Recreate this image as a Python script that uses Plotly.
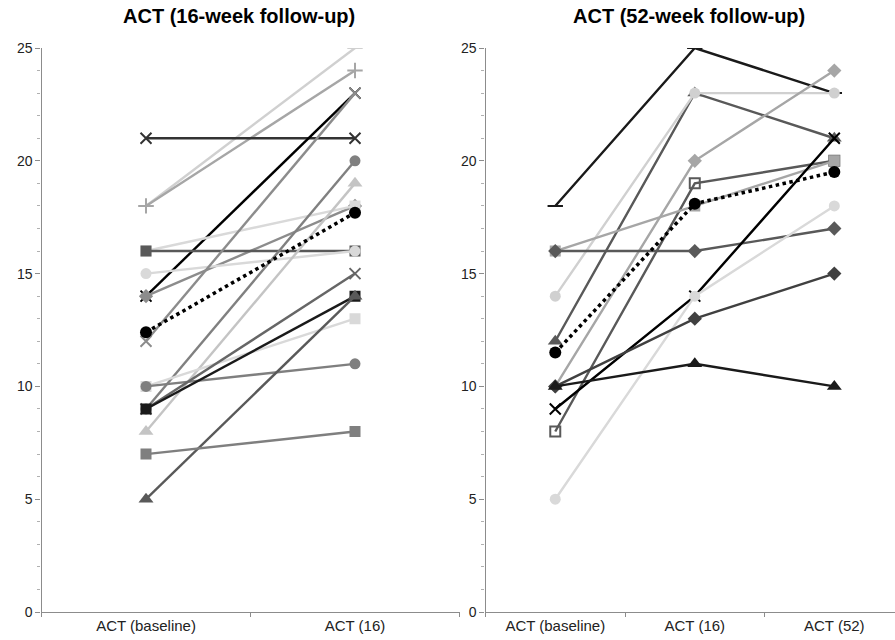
import plotly.graph_objects as go

# ---------------- data ----------------
left_categories = ["ACT (baseline)", "ACT (16)"]
right_categories = ["ACT (baseline)", "ACT (16)", "ACT (52)"]

# left panel: one entry per patient
left_baseline = [18, 18, 21, 14, 14, 16, 16, 15, 12, 9, 8, 10, 10, 9, 9, 5, 7]
left_week16 = [25, 24, 21, 23, 18, 18, 16, 16, 23, 20, 19, 13, 11, 15, 14, 14, 8]
left_mean = [12.4, 17.7]

# right panel: one entry per patient
right_baseline = [18, 12, 14, 10, 8, 16, 16, 9, 5, 10, 10]
right_week16 = [25, 23, 23, 20, 19, 18, 16, 14, 14, 13, 11]
right_week52 = [23, 21, 23, 24, 20, 20, 17, 21, 18, 15, 10]
right_mean = [11.5, 18.1, 19.5]

y_ticks = [0, 5, 10, 15, 20, 25]

# ---------------- styles ----------------
left_colors = ["#d0d0d0", "#a6a6a6", "#333333", "#000000", "#8c8c8c", "#d9d9d9",
               "#595959", "#d9d9d9", "#8c8c8c", "#808080", "#c4c4c4", "#d9d9d9",
               "#7f7f7f", "#666666", "#1a1a1a", "#595959", "#7f7f7f"]
left_symbols = ["line-ew", "cross-thin", "x-thin", "x-thin", "diamond", "square",
                "square", "circle", "x-thin", "circle", "triangle-up", "square",
                "circle", "x-thin", "square", "triangle-up", "square"]

right_colors = ["#1a1a1a", "#595959", "#d0d0d0", "#a6a6a6", "#595959", "#a6a6a6",
                "#595959", "#000000", "#d9d9d9", "#404040", "#1a1a1a"]
right_symbols = ["line-ew", "triangle-up", "circle", "diamond", "square-open", "square",
                 "diamond", "x-thin", "circle", "diamond", "triangle-up"]

fig = go.Figure()


def marker_for(sym, col):
    line_syms = ("line-ew", "cross-thin", "x-thin")
    if sym in line_syms:
        return dict(symbol=sym, size=11, color=col, line=dict(color=col, width=2))
    if sym.endswith("-open"):
        return dict(symbol=sym, size=10, color=col, line=dict(color=col, width=2))
    if sym.startswith("triangle"):
        return dict(symbol=sym, size=13, color=col, line=dict(width=0))
    return dict(symbol=sym, size=11, color=col, line=dict(width=0))


for i in range(len(left_baseline)):
    fig.add_trace(go.Scatter(
        x=left_categories, y=[left_baseline[i], left_week16[i]],
        mode="lines+markers", line=dict(color=left_colors[i], width=2.4),
        marker=marker_for(left_symbols[i], left_colors[i]),
        xaxis="x", yaxis="y", showlegend=False, hoverinfo="y"))

fig.add_trace(go.Scatter(
    x=left_categories, y=left_mean, mode="lines+markers",
    line=dict(color="#000000", width=3.5, dash="dot"),
    marker=dict(symbol="circle", size=12, color="#000000"),
    xaxis="x", yaxis="y", showlegend=False))

for i in range(len(right_baseline)):
    fig.add_trace(go.Scatter(
        x=right_categories, y=[right_baseline[i], right_week16[i], right_week52[i]],
        mode="lines+markers", line=dict(color=right_colors[i], width=2.4),
        marker=marker_for(right_symbols[i], right_colors[i]),
        xaxis="x2", yaxis="y2", showlegend=False, hoverinfo="y"))

fig.add_trace(go.Scatter(
    x=right_categories, y=right_mean, mode="lines+markers",
    line=dict(color="#000000", width=3.5, dash="dot"),
    marker=dict(symbol="circle", size=12, color="#000000"),
    xaxis="x2", yaxis="y2", showlegend=False))

W, H = 895, 640
y_dom = [(H - 612) / H, (H - 48) / H]

axis_common = dict(showgrid=False, zeroline=False, showline=True,
                   linecolor="#8c8c8c", linewidth=1.2, automargin=False,
                   tickfont=dict(family="Liberation Sans Narrow, Liberation Sans, Arial", size=15, color="#222"))

yaxis_common = dict(axis_common, range=[0, 25], tickvals=y_ticks, ticks="outside",
                    ticklen=5, tickcolor="#8c8c8c",
                    minor=dict(dtick=1, ticks="outside", ticklen=3, tickcolor="#b0b0b0"))
yaxis_common["tickfont"] = dict(family="Liberation Sans, Arial", size=14, color="#222")

fig.update_layout(
    width=W, height=H,
    margin=dict(l=0, r=0, t=0, b=0, pad=0),
    paper_bgcolor="white", plot_bgcolor="white",
    xaxis=dict(axis_common, domain=[41.5 / W, 459.5 / W], type="category",
               range=[-0.5, 1.5], ticks="outside", tickson="boundaries",
               ticklen=4, tickcolor="#8c8c8c", anchor="y"),
    yaxis=dict(yaxis_common, domain=y_dom, anchor="x"),
    xaxis2=dict(axis_common, domain=[485.5 / W, 1.0], type="category",
                range=[-0.5, 2.435], ticks="outside", tickson="boundaries",
                ticklen=4, tickcolor="#8c8c8c", anchor="y2"),
    yaxis2=dict(yaxis_common, domain=y_dom, anchor="x2"),
    annotations=[
        dict(text="<b>ACT (16-week follow-up)</b>", x=239 / W, y=(H - 16) / H,
             xref="paper", yref="paper", xanchor="center", yanchor="middle",
             showarrow=False,
             font=dict(family="Liberation Sans, Arial", size=20, color="#000")),
        dict(text="<b>ACT (52-week follow-up)</b>", x=689 / W, y=(H - 16) / H,
             xref="paper", yref="paper", xanchor="center", yanchor="middle",
             showarrow=False,
             font=dict(family="Liberation Sans, Arial", size=20, color="#000")),
    ],
)

fig.write_html("out.html", config={"displayModeBar": False},
               post_script="document.body.style.margin='0';document.body.style.overflow='hidden';")
